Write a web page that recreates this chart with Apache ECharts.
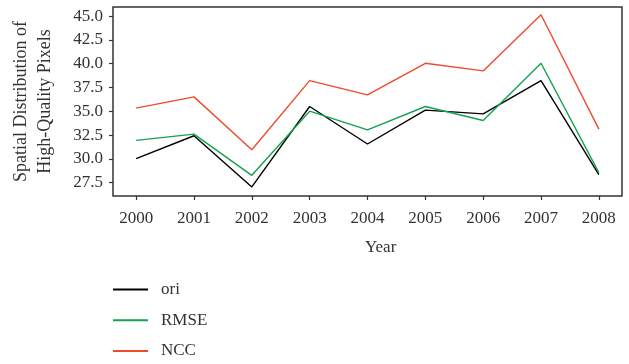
<!DOCTYPE html>
<html>
<head>
<meta charset="utf-8">
<script src="https://cdn.jsdelivr.net/npm/echarts@6/dist/echarts.min.js"></script>
<style>
  html, body { margin: 0; padding: 0; background: #fff; }
  #chart { width: 629px; height: 364px; }
</style>
</head>
<body>
<div id="chart"></div>
<script>
// Yearly counts of high-quality pixels for each selection method
const years = [2000, 2001, 2002, 2003, 2004, 2005, 2006, 2007, 2008];
const ori  = [30.02, 32.43, 27.05, 35.50, 31.56, 35.12, 34.73, 38.22, 28.34];
const rmse = [31.94, 32.60, 28.27, 35.01, 33.05, 35.50, 34.03, 40.04, 28.55];
const ncc  = [35.33, 36.51, 30.96, 38.22, 36.72, 40.04, 39.24, 45.14, 33.12];
const yTicks = [27.5, 30.0, 32.5, 35.0, 37.5, 40.0, 42.5, 45.0];

const FONT = 'Liberation Serif';
const TEXT = '#333';

const pairs = vals => years.map((y, i) => [y, vals[i]]);

const chart = echarts.init(document.getElementById('chart'), null, { renderer: 'canvas' });

const mkSeries = (name, vals, color) => ({
  name,
  type: 'line',
  data: pairs(vals),
  symbol: 'none',
  lineStyle: { color, width: 1.4 },
  itemStyle: { color },
  animation: false
});

chart.setOption({
  animation: false,
  textStyle: { fontFamily: FONT },
  grid: {
    left: 113, top: 7, right: 7, bottom: 168,
    show: true, borderColor: '#333', borderWidth: 1.5, backgroundColor: 'transparent'
  },
  xAxis: {
    type: 'value',
    min: 1999.6, max: 2008.4,
    axisLine: { show: false },
    splitLine: { show: false },
    axisTick: { show: true, length: 4, inside: false, lineStyle: { color: '#333', width: 1.2 }, customValues: years },
    axisLabel: {
      customValues: years, margin: 14,
      color: TEXT, fontFamily: FONT, fontSize: 17,
      formatter: v => String(Math.round(v))
    }
  },
  yAxis: {
    type: 'value',
    min: 26.1, max: 45.95,
    name: 'Spatial Distribution of\nHigh-Quality Pixels',
    nameLocation: 'middle', nameRotate: 90, nameGap: 56,
    nameTextStyle: { color: TEXT, fontFamily: FONT, fontSize: 18, lineHeight: 24 },
    axisLine: { show: false },
    splitLine: { show: false },
    axisTick: { show: true, length: 4, inside: false, lineStyle: { color: '#333', width: 1.2 }, customValues: yTicks },
    axisLabel: {
      customValues: yTicks, margin: 10,
      color: TEXT, fontFamily: FONT, fontSize: 17,
      formatter: v => v.toFixed(1)
    }
  },
  legend: {
    orient: 'vertical',
    left: 113, top: 281, padding: 0,
    icon: 'rect',
    itemWidth: 35, itemHeight: 2, itemGap: 13.7,
    textStyle: { color: TEXT, fontFamily: FONT, fontSize: 17, lineHeight: 17, padding: [0, 0, 0, 8] },
    data: ['ori', 'RMSE', 'NCC']
  },
  graphic: [{
    type: 'text',
    left: 365, top: 239,
    style: { text: 'Year', fill: TEXT, font: '17px "Liberation Serif"' }
  }],
  series: [
    mkSeries('ori', ori, '#000000'),
    mkSeries('RMSE', rmse, '#13a350'),
    mkSeries('NCC', ncc, '#ef4a2b')
  ]
});
</script>
</body>
</html>
